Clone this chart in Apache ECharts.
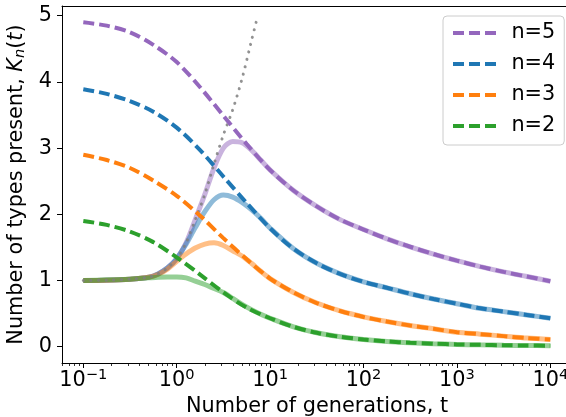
<!DOCTYPE html>
<html>
<head>
<meta charset="utf-8">
<script src="https://cdn.jsdelivr.net/npm/echarts@6/dist/echarts.min.js"></script>
<style>
html,body{margin:0;padding:0;background:#fff;}
#chart{width:566px;height:417px;}
</style>
</head>
<body>
<div id="chart"></div>
<script>
// ---- data (t = number of generations) ----
const tDashed = [0.1, 0.178, 0.316, 0.562, 1, 1.78, 3.16, 5.62, 10, 17.8, 31.6, 56.2, 100, 178, 316, 562, 1000, 1780, 3160, 5620, 10000];
const dashN5 = [4.90, 4.85, 4.75, 4.56, 4.30, 3.92, 3.49, 3.06, 2.67, 2.36, 2.12, 1.92, 1.77, 1.63, 1.51, 1.40, 1.30, 1.21, 1.13, 1.06, 0.99];
const dashN4 = [3.89, 3.82, 3.71, 3.55, 3.31, 2.97, 2.57, 2.17, 1.79, 1.48, 1.26, 1.10, 0.98, 0.89, 0.80, 0.72, 0.65, 0.58, 0.53, 0.48, 0.43];
const dashN3 = [2.90, 2.82, 2.70, 2.51, 2.28, 1.98, 1.64, 1.32, 1.03, 0.82, 0.66, 0.54, 0.45, 0.38, 0.32, 0.27, 0.22, 0.19, 0.16, 0.13, 0.11];
const dashN2 = [1.90, 1.84, 1.74, 1.58, 1.35, 1.09, 0.82, 0.59, 0.43, 0.30, 0.21, 0.15, 0.11, 0.08, 0.06, 0.045, 0.035, 0.028, 0.022, 0.018, 0.015];

const tFull = [0.1, 0.178, 0.316, 0.5, 0.631, 0.794, 1, 1.26, 1.58, 2, 2.51, 3.16, 3.98, 5.01, 6.31, 7.94, 10, 17.8, 31.6, 56.2, 100, 178, 316, 562, 1000, 1780, 3160, 5620, 10000];
const fullN5 = [1.00, 1.005, 1.02, 1.05, 1.10, 1.19, 1.33, 1.57, 1.92, 2.30, 2.70, 3.00, 3.10, 3.08, 2.97, 2.82, 2.67, 2.36, 2.12, 1.92, 1.77, 1.63, 1.51, 1.40, 1.30, 1.21, 1.13, 1.06, 0.99];
const fullN4 = [1.00, 1.005, 1.02, 1.05, 1.10, 1.19, 1.33, 1.55, 1.80, 2.04, 2.22, 2.29, 2.26, 2.18, 2.07, 1.94, 1.79, 1.48, 1.26, 1.10, 0.98, 0.89, 0.80, 0.72, 0.65, 0.58, 0.53, 0.48, 0.43];
const fullN3 = [1.00, 1.005, 1.02, 1.05, 1.09, 1.17, 1.29, 1.40, 1.49, 1.55, 1.57, 1.53, 1.45, 1.37, 1.26, 1.14, 1.03, 0.82, 0.66, 0.54, 0.45, 0.38, 0.32, 0.27, 0.22, 0.19, 0.16, 0.13, 0.11];
const fullN2 = [1.00, 1.01, 1.02, 1.04, 1.05, 1.055, 1.055, 1.04, 0.99, 0.94, 0.88, 0.82, 0.73, 0.64, 0.56, 0.49, 0.43, 0.30, 0.21, 0.15, 0.11, 0.08, 0.06, 0.045, 0.035, 0.028, 0.022, 0.018, 0.015];

const tDotted = [0.1, 0.178, 0.316, 0.5, 0.631, 0.794, 1, 1.26, 1.58, 2, 2.51, 3.16, 3.98, 5.01, 6.31, 7.08];
const dotted = [1.00, 1.005, 1.02, 1.05, 1.10, 1.19, 1.33, 1.57, 1.92, 2.30, 2.76, 3.20, 3.58, 4.05, 4.62, 4.90];

const seriesNames = ['n=5', 'n=4', 'n=3', 'n=2'];
const seriesColors = ['#9467bd', '#1f77b4', '#ff7f0e', '#2ca02c'];
const xTickExponents = [-1, 0, 1, 2, 3, 4];
const yTickValues = [0, 1, 2, 3, 4, 5];
const xTitle = 'Number of generations, t';

const dashedSets = [dashN5, dashN4, dashN3, dashN2];
const fullSets = [fullN5, fullN4, fullN3, fullN2];

// ---- build ----
const lg = v => Math.log10(v);
const pairs = (ts, ys) => ts.map((t, i) => [lg(t), ys[i]]);

const minorTicks = [];
for (let e = -2; e <= 4; e++) {
  for (let k = 2; k <= 9; k++) {
    const v = e + Math.log10(k);
    if (v > -1.228 && v < 4.232) minorTicks.push(v);
  }
}

const FONT = 'DejaVu Sans';
const FS = 20.8;
const XMIN = -1.228, XMAX = 4.232;

const series = [];
seriesNames.forEach((name, i) => {
  series.push({
    name: name + ' full', type: 'line', xAxisIndex: 0, yAxisIndex: 0,
    data: pairs(tFull, fullSets[i]), symbol: 'none', smooth: 0.3,
    lineStyle: { color: seriesColors[i], width: 5, opacity: 0.5, cap: 'butt' },
    itemStyle: { color: seriesColors[i] }, z: 2
  });
  series.push({
    name: name, type: 'line', xAxisIndex: 0, yAxisIndex: 0,
    data: pairs(tDashed, dashedSets[i]), symbol: 'none', smooth: 0.3,
    lineStyle: { color: seriesColors[i], width: 4, type: [11, 5], cap: 'butt' },
    itemStyle: { color: seriesColors[i] }, z: 3
  });
});
series.push({
  name: 'dotted', type: 'line', xAxisIndex: 0, yAxisIndex: 0,
  data: pairs(tDotted, dotted), symbol: 'none', smooth: 0.3,
  lineStyle: { color: '#7f7f7f', width: 3, type: [0.1, 7.5], opacity: 0.85, cap: 'round' },
  itemStyle: { color: '#7f7f7f' }, z: 2
});

const chart = echarts.init(document.getElementById('chart'), null, { renderer: 'canvas' });
chart.setOption({
  animation: false,
  backgroundColor: '#ffffff',
  textStyle: { fontFamily: FONT },
  grid: { left: 62, top: 6, right: -6, bottom: 54, containLabel: false, outerBoundsMode: 'none' },
  legend: {
    data: seriesNames,
    orient: 'vertical', left: 443, top: 16,
    padding: [6, 9, 8, 8], itemGap: 9,
    itemWidth: 43, itemHeight: 14,
    backgroundColor: 'rgba(255,255,255,0.8)', borderColor: '#cccccc', borderWidth: 1, borderRadius: 4,
    lineStyle: { width: 4, opacity: 1 },
    itemStyle: { opacity: 0, borderWidth: 0 },
    formatter: name => '\u2002' + name,
    textStyle: { fontFamily: FONT, fontSize: FS, color: '#000', lineHeight: 22 },
    selectedMode: false
  },
  xAxis: [
    {
      type: 'value', min: XMIN, max: XMAX, position: 'bottom',
      axisLine: { show: true, onZero: false, lineStyle: { color: '#000', width: 1 } },
      axisTick: { show: true, customValues: xTickExponents, length: 5, lineStyle: { color: '#000', width: 1 } },
      axisLabel: {
        customValues: xTickExponents, margin: 5, color: '#000',
        formatter: v => '{b|10}{s|' + (v < 0 ? '\u2212' + (-v) : v) + '}',
        rich: {
          b: { fontFamily: FONT, fontSize: FS, lineHeight: 26, color: '#000' },
          s: { fontFamily: FONT, fontSize: 14.6, lineHeight: 15, verticalAlign: 'top', color: '#000' }
        }
      },
      splitLine: { show: false },
      name: xTitle, nameLocation: 'middle', nameGap: 32,
      nameTextStyle: { fontFamily: FONT, fontSize: FS, color: '#000' }
    },
    {
      type: 'value', min: XMIN, max: XMAX, position: 'bottom',
      axisLine: { show: false, onZero: false },
      axisTick: { show: true, customValues: minorTicks, length: 3, lineStyle: { color: '#000', width: 0.8 } },
      axisLabel: { show: false },
      splitLine: { show: false }
    },
    {
      type: 'value', min: XMIN, max: XMAX, position: 'top',
      axisLine: { show: true, onZero: false, lineStyle: { color: '#000', width: 1 } },
      axisTick: { show: false }, axisLabel: { show: false }, splitLine: { show: false }
    }
  ],
  yAxis: {
    type: 'value', min: -0.246, max: 5.147,
    axisLine: { show: true, onZero: false, lineStyle: { color: '#000', width: 1 } },
    axisTick: { show: true, customValues: yTickValues, length: 5, lineStyle: { color: '#000', width: 1 } },
    axisLabel: { customValues: yTickValues, margin: 10, color: '#000', fontFamily: FONT, fontSize: FS },
    splitLine: { show: false },
    name: '{a|Number of types present, }{k|K}{n|n}{a|(}{k|t}{a|)}',
    nameLocation: 'middle', nameGap: 32, nameRotate: 90,
    nameTextStyle: {
      color: '#000',
      rich: {
        a: { fontFamily: FONT, fontSize: FS, lineHeight: 22, color: '#000' },
        k: { fontFamily: FONT, fontSize: FS, lineHeight: 22, fontStyle: 'italic', color: '#000' },
        n: { fontFamily: FONT, fontSize: 14.6, lineHeight: 14, fontStyle: 'italic', verticalAlign: 'bottom', color: '#000' }
      }
    }
  },
  series: series
});
</script>
</body>
</html>
